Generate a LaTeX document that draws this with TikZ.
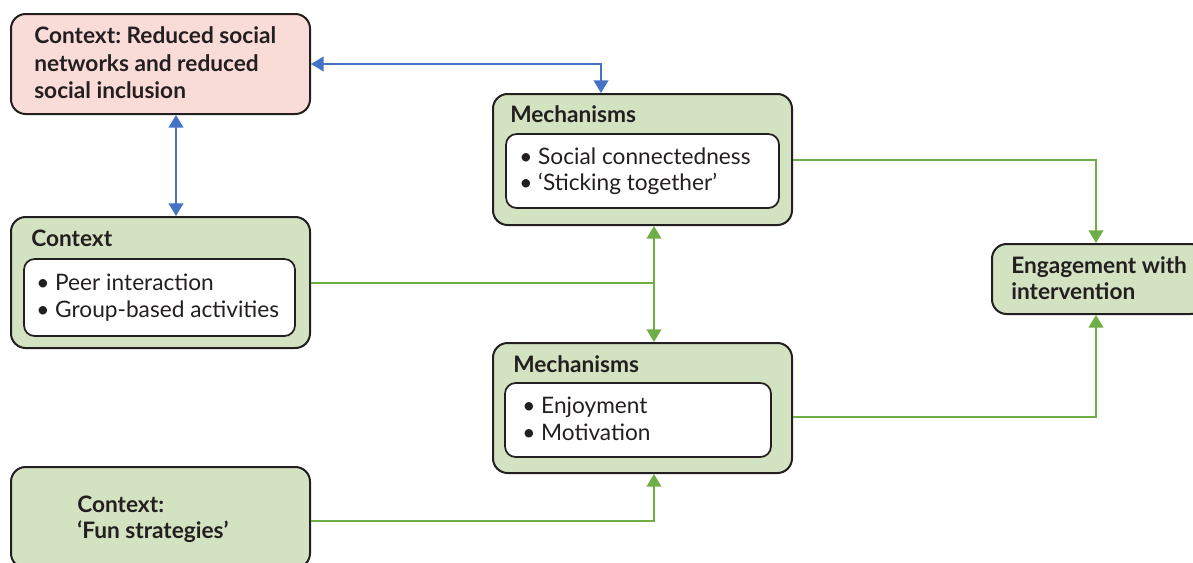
\documentclass[tikz,border=0pt]{standalone}
\usepackage{fontspec}
\setmainfont{Lato}
\frenchspacing
\usetikzlibrary{arrows.meta,fit,calc}
\definecolor{pinkf}{HTML}{F9DBD8}
\definecolor{greenf}{HTML}{D3E2C1}
\definecolor{gline}{HTML}{6FAE47}
\definecolor{bline}{HTML}{4472C4}
\definecolor{edge}{HTML}{231F20}
\definecolor{txt}{HTML}{231F20}
\tikzset{
  obox/.style={draw=edge, line width=1.5pt, rounded corners=11pt, inner sep=0pt},
  ibox/.style={draw=edge, fill=white, line width=1.3pt, rounded corners=8pt, inner sep=0pt},
  hd/.style={anchor=base west, inner sep=0pt, text=txt, font=\fontsize{17}{20}\selectfont\bfseries},
  bt/.style={anchor=base west, inner sep=0pt, text=txt, font=\fontsize{17}{20}\selectfont},
  tip/.style={-{Triangle[width=11pt,length=9.5pt]}},
  dtip/.style={{Triangle[width=11pt,length=9.5pt]}-{Triangle[width=11pt,length=9.5pt]}},
  bl/.style={draw=bline, line width=1.5pt},
  gr/.style={draw=gline, line width=1.5pt},
}
\begin{document}
\begin{tikzpicture}[x=0.75pt,y=-0.75pt]
\useasboundingbox (0,0) rectangle (1193,562);
% boxes
\node[obox, fill=pinkf, fit={(11,14)(310,114)}] (A) {};
\node[obox, fill=greenf, fit={(11,217)(310,348)}] (B) {};
\node[ibox, fit={(24,259)(295,336)}] (Bi) {};
\node[obox, fill=greenf, fit={(493,94)(792,225)}] (M1) {};
\node[ibox, fit={(506,134)(779,208)}] (M1i) {};
\node[obox, fill=greenf, fit={(493,343)(792,473)}] (M2) {};
\node[ibox, fit={(505,383)(771,457)}] (M2i) {};
\node[obox, fill=greenf, fit={(992,244)(1205,314)}] (E) {};
\node[obox, fill=greenf, fit={(11,467)(310,568)}] (F) {};
% texts
\node[hd] (A1) at (34,43) {Context: Reduced social};
\node[hd] (A2) at (34,71) {networks and reduced};
\node[hd] (A3) at (34,98) {social inclusion};
\node[hd] (Bh) at (31,246) {Context};
\node[bt] (B1) at (36,290) {• Peer interaction};
\node[bt] (B2) at (36,317) {• Group-based activities};
\node[hd] (M1h) at (510,122) {Mechanisms};
\node[bt] (M11) at (519,164) {• Social connectedness};
\node[bt] (M12) at (519,190) {• ‘Sticking together’};
\node[hd] (M2h) at (513,372) {Mechanisms};
\node[bt] (M21) at (522,413) {• Enjoyment};
\node[bt] (M22) at (522,440) {• Motivation};
\node[hd] (E1) at (1011,273) {Engagement with};
\node[hd] (E2) at (1011,299) {intervention};
\node[hd] (F1) at (77,512) {Context:};
\node[hd] (F2) at (77,538) {‘Fun strategies’};
% connectors
\coordinate (J1) at ($(M1.south west)+(162,0)$);
\coordinate (J2) at ($(M2.north west)+(162,0)$);
\coordinate (J3) at ($(M2.south west)+(162,0)$);
\coordinate (Et) at ($(E.north west)+(105,0)$);
\coordinate (Eb) at ($(E.south west)+(105,0)$);
\coordinate (Mt) at ($(M1.north west)+(109,0)$);
\draw[bl, dtip] (A.east) -| (Mt);
\draw[bl, dtip] ($(A.south west)+(166,0)$) -- ($(B.north west)+(166,0)$);
\draw[gr, dtip] (J1) -- (J2);
\draw[gr] (B.east) -- (B.east -| J1);
\draw[gr, tip] (M1.east) -| (Et);
\draw[gr, tip] ($(M2.east)+(0,9)$) -| (Eb);
\draw[gr, tip] ($(F.east)+(0,3)$) -| (J3);
\end{tikzpicture}
\end{document}
